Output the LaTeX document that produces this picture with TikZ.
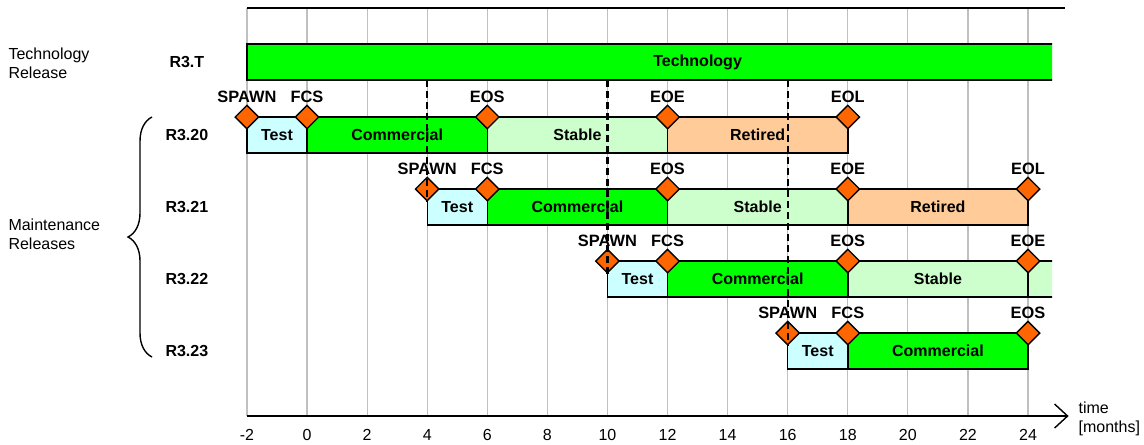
\documentclass[tikz,border=0pt]{standalone}
\usepackage{fontspec}
\setmainfont{Liberation Sans}
\usetikzlibrary{shapes.geometric, positioning, arrows.meta, decorations.pathreplacing}
\definecolor{TechGreen}{RGB}{0, 255, 0}
\definecolor{TestCyan}{RGB}{204, 255, 255}
\definecolor{StableGreen}{RGB}{204, 255, 204}
\definecolor{RetiredPeach}{RGB}{255, 204, 153}
\definecolor{MileOrange}{RGB}{255, 102, 0}
\definecolor{GridGray}{RGB}{192, 192, 192}

\begin{document}
\begin{tikzpicture}[x=15.02pt, y=-0.5pt, font=\fontsize{8}{9.5}\selectfont,
    phase/.style={draw, line width=0.7pt, anchor=west, minimum height=18pt, inner sep=0pt, outer sep=0pt, font=\fontsize{8}{9.5}\selectfont\bfseries},
    testph/.style={phase, fill=TestCyan, minimum width=30.04pt},
    comph/.style={phase, fill=TechGreen, minimum width=90.12pt},
    stabph/.style={phase, fill=StableGreen, minimum width=90.12pt},
    retph/.style={phase, fill=RetiredPeach, minimum width=90.12pt},
    ms/.style={diamond, draw, line width=0.7pt, fill=MileOrange, minimum width=12pt, minimum height=12pt, inner sep=0pt},
    mslabel/.style={inner sep=0pt, font=\fontsize{8.2}{9.5}\selectfont\bfseries},
    rel/.style={font=\fontsize{8}{9.5}\selectfont\bfseries},
    gridline/.style={GridGray, line width=0.6pt},
    frame/.style={black, line width=0.7pt},
    spawnline/.style={dash pattern=on 3.5pt off 2pt, line width=1.1pt}]
    \useasboundingbox (-10.22,0) rectangle (27.86,444);

    % Raster und Zeitachse
    \foreach \t in {-2,0,...,24}
        \draw[gridline] (\t,8) -- (\t,416);
    \draw[frame] (-2,8) -- (25.23,8);
    \draw[frame, -{Straight Barb[length=6.5pt, width=12pt]}] (-2,416) -- (25.35,416);
    \foreach \t in {-2,0,...,24}
        \node (tick\t) at (\t,435) {\t};
    \node[anchor=west, align=left, inner sep=0pt] (timelbl) at (25.67,419) {time\\{}[months]};

    % Linke Beschriftung
    \node[anchor=west, align=left, inner sep=0pt] (techrel) at (-9.95,63) {Technology\\Release};
    \node[anchor=west, align=left, inner sep=0pt] (maintrel) at (-9.95,234) {Maintenance\\Releases};
    \coordinate (bracetop) at (-5.16,117);
    \coordinate (bracebot) at (-5.16,357);
    \draw[decorate, decoration={brace, amplitude=12pt}, line width=0.7pt] (bracebot) -- (bracetop);
    \node[rel] (r3t) at (-4,62) {R3.T};
    \node[rel] (r320) at (-4,135) {R3.20};
    \node[rel] (r321) at (-4,207) {R3.21};
    \node[rel] (r322) at (-4,279) {R3.22};
    \node[rel] (r323) at (-4,351) {R3.23};

    % Balken am rechten Rand abgeschnitten
    \begin{scope}
        \clip (-2.5,0) rectangle (24.8,444);
        \node[phase, fill=TechGreen, minimum width=450.6pt] (tech) at (-2,62) {Technology};
        \node[stabph] (stab22b) at (24,279) {};
    \end{scope}

    % R3.20
    \node[testph] (test20) at (-2,135) {Test};
    \node[comph] (com20) at (0,135) {Commercial};
    \node[stabph] (stab20) at (6,135) {Stable};
    \node[retph] (ret20) at (12,135) {Retired};

    % R3.21
    \node[testph] (test21) at (4,207) {Test};
    \node[comph] (com21) at (6,207) {Commercial};
    \node[stabph] (stab21) at (12,207) {Stable};
    \node[retph] (ret21) at (18,207) {Retired};

    % R3.22
    \node[testph] (test22) at (10,279) {Test};
    \node[comph] (com22) at (12,279) {Commercial};
    \node[stabph] (stab22) at (18,279) {Stable};

    % R3.23
    \node[testph] (test23) at (16,351) {Test};
    \node[comph] (com23) at (18,351) {Commercial};

    % Meilensteine
    \foreach \t/\n/\txt in {-2/spawn20/SPAWN, 0/fcs20/FCS, 6/eos20/EOS, 12/eoe20/EOE, 18/eol20/EOL} {
        \node[ms] (\n) at (\t,117) {};
        \node[mslabel, above=0.6pt of \n] (l\n) {\txt};
    }
    \foreach \t/\n/\txt in {4/spawn21/SPAWN, 6/fcs21/FCS, 12/eos21/EOS, 18/eoe21/EOE, 24/eol21/EOL} {
        \node[ms] (\n) at (\t,189) {};
        \node[mslabel, above=0.6pt of \n] (l\n) {\txt};
    }
    \foreach \t/\n/\txt in {10/spawn22/SPAWN, 12/fcs22/FCS, 18/eos22/EOS, 24/eoe22/EOE} {
        \node[ms] (\n) at (\t,261) {};
        \node[mslabel, above=0.6pt of \n] (l\n) {\txt};
    }
    \foreach \t/\n/\txt in {16/spawn23/SPAWN, 18/fcs23/FCS, 24/eos23/EOS} {
        \node[ms] (\n) at (\t,333) {};
        \node[mslabel, above=0.6pt of \n] (l\n) {\txt};
    }

    % Abzweigungen vom Technologie-Release
    \draw[spawnline] (spawn21 |- tech.south) -- (spawn21.south);
    \draw[spawnline] (spawn22 |- tech.south) -- (spawn22.south);
    \draw[spawnline] (spawn23 |- tech.south) -- (spawn23.south);
\end{tikzpicture}
\end{document}
